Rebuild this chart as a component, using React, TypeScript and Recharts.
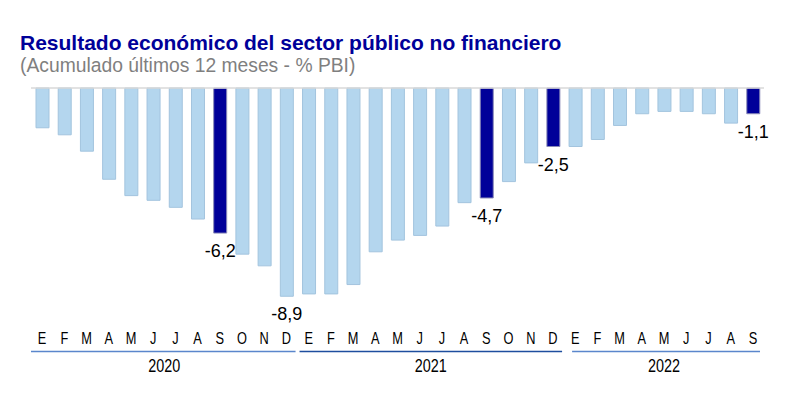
import React from 'react';
import { BarChart, Bar, XAxis, YAxis, ReferenceLine, LabelList, Cell } from 'recharts';

const months = ['E','F','M','A','M','J','J','A','S','O','N','D','E','F','M','A','M','J','J','A','S','O','N','D','E','F','M','A','M','J','J','A','S'];
const years = ['2020','2020','2020','2020','2020','2020','2020','2020','2020','2020','2020','2020','2021','2021','2021','2021','2021','2021','2021','2021','2021','2021','2021','2021','2022','2022','2022','2022','2022','2022','2022','2022','2022'];
const values = [-1.7,-2.0,-2.7,-3.9,-4.6,-4.8,-5.1,-5.6,-6.2,-7.1,-7.6,-8.9,-8.8,-8.8,-8.4,-7.0,-6.5,-6.3,-5.9,-4.9,-4.7,-4.0,-3.2,-2.5,-2.5,-2.2,-1.6,-1.1,-1.0,-1.0,-1.1,-1.5,-1.1];
const highlighted = ['S-2020','S-2021','D-2021','S-2022'];
const labelled = ['S-2020','D-2020','S-2021','D-2021','S-2022'];
const yearNames = ['2020','2021','2022'];
const yearLineColors = ['#5A86CC','#1E4E9E','#5A86CC'];

const data = values.map((v, i) => ({ id: months[i] + '-' + years[i], month: months[i], year: years[i], value: v }));

const W = 800;
const H = 407;
const MARGIN = { top: 88, right: 36, bottom: 55, left: 31 };
const PLOT_W = W - MARGIN.left - MARGIN.right;
const STEP = PLOT_W / data.length;

const LIGHT = '#B4D6EE';
const DARK = '#000099';
const FONT = "'Liberation Sans', Arial, sans-serif";

const NarrowText = ({ x, y, size, children }: any) => (
  <text transform={`translate(${x},${y}) scale(0.8,1)`} x={0} y={0} textAnchor="middle" fontSize={size} fill="#000" fontFamily={FONT}>
    {children}
  </text>
);

const MonthTick = (props: any) => {
  const { x, index } = props;
  const d = data[index];
  if (!d) return null;
  const els: any[] = [
    <NarrowText key="m" x={x} y={344} size={16}>{d.month}</NarrowText>,
  ];
  const first = index === 0 || data[index - 1].year !== d.year;
  if (first) {
    const yi = yearNames.indexOf(d.year);
    const count = data.filter((r) => r.year === d.year).length;
    const start = x - STEP / 2 + (yi === 2 ? 8 : yi === 0 ? 0 : 2);
    const end = x - STEP / 2 + count * STEP - (yi === 2 ? 4 : 2);
    els.push(<line key="l" x1={start} x2={end} y1={351.5} y2={351.5} stroke={yearLineColors[yi]} strokeWidth={1.5} />);
    const mid = x - STEP / 2 + (count * STEP) / 2;
    els.push(<NarrowText key="y" x={mid} y={372} size={18}>{d.year}</NarrowText>);
  }
  return <g>{els}</g>;
};

const ValueLabel = (props: any) => {
  const { x, y, width, height, index } = props;
  const d = data[index];
  if (!d || labelled.indexOf(d.id) < 0) return null;
  const bottom = Math.max(y, y + height);
  return (
    <text x={x + width / 2} y={bottom + 24} textAnchor="middle" fontSize={18} fill="#000" fontFamily={FONT}>
      {d.value.toFixed(1).replace('.', ',')}
    </text>
  );
};

export default function App() {
  return (
    <div style={{ position: 'absolute', left: 0, top: 0, width: W, height: H, background: '#fff', fontFamily: FONT }}>
      <div style={{ position: 'absolute', left: 20, top: 31, fontSize: 21, fontWeight: 'bold', color: '#000099', whiteSpace: 'nowrap', lineHeight: '24px' }}>
        Resultado económico del sector público no financiero
      </div>
      <div style={{ position: 'absolute', left: 20, top: 55, fontSize: 19.3, color: '#7F7F7F', whiteSpace: 'nowrap', lineHeight: '22px' }}>
        (Acumulado últimos 12 meses - % PBI)
      </div>
      <BarChart width={W} height={H} data={data} margin={MARGIN} barSize={13} style={{ position: 'absolute', left: 0, top: 0 }}>
        <XAxis dataKey="id" interval={0} tick={<MonthTick />} tickLine={false} axisLine={false} height={30} />
        <YAxis hide domain={[-10, 0]} />
        <Bar dataKey="value" isAnimationActive={false} strokeWidth={1}>
          {data.map((d) => (
            <Cell key={d.id} fill={highlighted.indexOf(d.id) >= 0 ? DARK : LIGHT} stroke={highlighted.indexOf(d.id) >= 0 ? '#8A8AB8' : '#A3C4DE'} />
          ))}
          <LabelList dataKey="value" content={<ValueLabel />} />
        </Bar>
        <ReferenceLine y={0} stroke="#D9D9D9" strokeWidth={1.5} />
      </BarChart>
    </div>
  );
}
